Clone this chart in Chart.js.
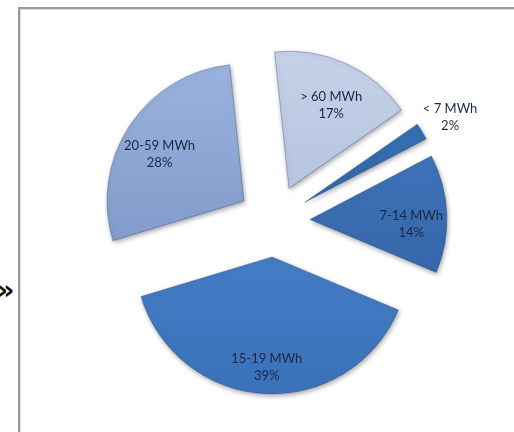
<!DOCTYPE html>
<html>
<head>
<meta charset="utf-8">
<script src="https://cdn.jsdelivr.net/npm/chart.js@4"></script>
<style>
  html, body { margin: 0; padding: 0; background: #fff; }
  #wrap { position: relative; width: 514px; height: 432px; overflow: hidden; }
  #frame {
    position: absolute; left: 18px; top: 7px; width: 520px; height: 440px;
    border-left: 2px solid #9a9a9a; border-top: 2px solid #9a9a9a;
    box-shadow: inset 1px 1px 0 #dcdcdc;
  }
  #mark {
    position: absolute; left: -3px; top: 274px;
    font: bold 27px "DejaVu Sans", sans-serif; color: #111;
  }
  canvas { position: absolute; left: 0; top: 0; }
</style>
</head>
<body>
<div id="wrap">
  <div id="frame"></div>
  <div id="mark">»</div>
  <canvas id="chart" width="514" height="432"></canvas>
</div>
<script>
const categories = ["> 60 MWh", "< 7 MWh", "7-14 MWh", "15-19 MWh", "20-59 MWh"];
const shares = [17, 2, 14, 39, 28];
const topColors = ["#c4d1e8", "#3b73b9", "#437cc4", "#4e8ad3", "#9ab3dd"];
const bottomColors = ["#a8b8d7", "#2a5b9b", "#2e5d9c", "#3a71b9", "#748fc1"];

const EXPLODE = 36;
const RADIUS = 137;

function sliceGradient(c) {
  const i = c.dataIndex;
  const chart = c.chart;
  const area = chart.chartArea;
  if (!area) return topColors[i];
  const total = shares.reduce((a, b) => a + b, 0);
  let before = 0;
  for (let k = 0; k < i; k++) before += shares[k];
  const rot = -6 * Math.PI / 180 - Math.PI / 2;
  const mid = rot + (before + shares[i] / 2) / total * Math.PI * 2;
  const cy = (area.top + area.bottom) / 2 + Math.sin(mid) * EXPLODE;
  const g = chart.ctx.createLinearGradient(0, cy - RADIUS, 0, cy + RADIUS);
  g.addColorStop(0, topColors[i]);
  g.addColorStop(1, bottomColors[i]);
  return g;
}

// push every slice out along its own middle angle
const explodePlugin = {
  id: "explode",
  afterDatasetUpdate(chart, args) {
    args.meta.data.forEach((arc) => {
      const mid = (arc.startAngle + arc.endAngle) / 2;
      arc.x += Math.cos(mid) * EXPLODE;
      arc.y += Math.sin(mid) * EXPLODE;
    });
  },
  beforeDatasetDraw(chart) {
    const ctx = chart.ctx;
    ctx.save();
    ctx.shadowColor = "rgba(0,0,0,0.35)";
    ctx.shadowBlur = 5;
    ctx.shadowOffsetX = 1;
    ctx.shadowOffsetY = 2;
  },
  afterDatasetDraw(chart) {
    chart.ctx.restore();
  }
};

const labelPlugin = {
  id: "sliceLabels",
  afterDatasetsDraw(chart) {
    const ctx = chart.ctx;
    const total = shares.reduce((a, b) => a + b, 0);
    ctx.save();
    ctx.font = "13px Lato, 'Open Sans', sans-serif";
    ctx.fillStyle = "#1b2844";
    ctx.textAlign = "center";
    ctx.textBaseline = "middle";
    chart.getDatasetMeta(0).data.forEach((arc, i) => {
      const mid = (arc.startAngle + arc.endAngle) / 2;
      const pct = shares[i] / total;
      const f = pct < 0.05 ? 1.24 : 0.74;
      const x = arc.x + Math.cos(mid) * arc.outerRadius * f;
      // labels sit a little below the radial point, as in the original
      const y = arc.y + Math.sin(mid) * arc.outerRadius * f + (pct < 0.05 ? 2 : 9);
      ctx.fillText(categories[i], x, y - 8);
      ctx.fillText(Math.round(pct * 100) + "%", x, y + 9);
    });
    ctx.restore();
  }
};

new Chart(document.getElementById("chart"), {
  type: "pie",
  data: {
    labels: categories,
    datasets: [{
      data: shares,
      backgroundColor: sliceGradient,
      borderColor: "rgba(40,70,120,0.35)",
      borderWidth: 1
    }]
  },
  options: {
    responsive: false,
    animation: false,
    rotation: -6,
    radius: RADIUS,
    layout: { padding: { left: 34, top: 10, right: 0, bottom: 0 } },
    plugins: {
      legend: { display: false },
      tooltip: { enabled: false }
    }
  },
  plugins: [explodePlugin, labelPlugin]
});
</script>
</body>
</html>
